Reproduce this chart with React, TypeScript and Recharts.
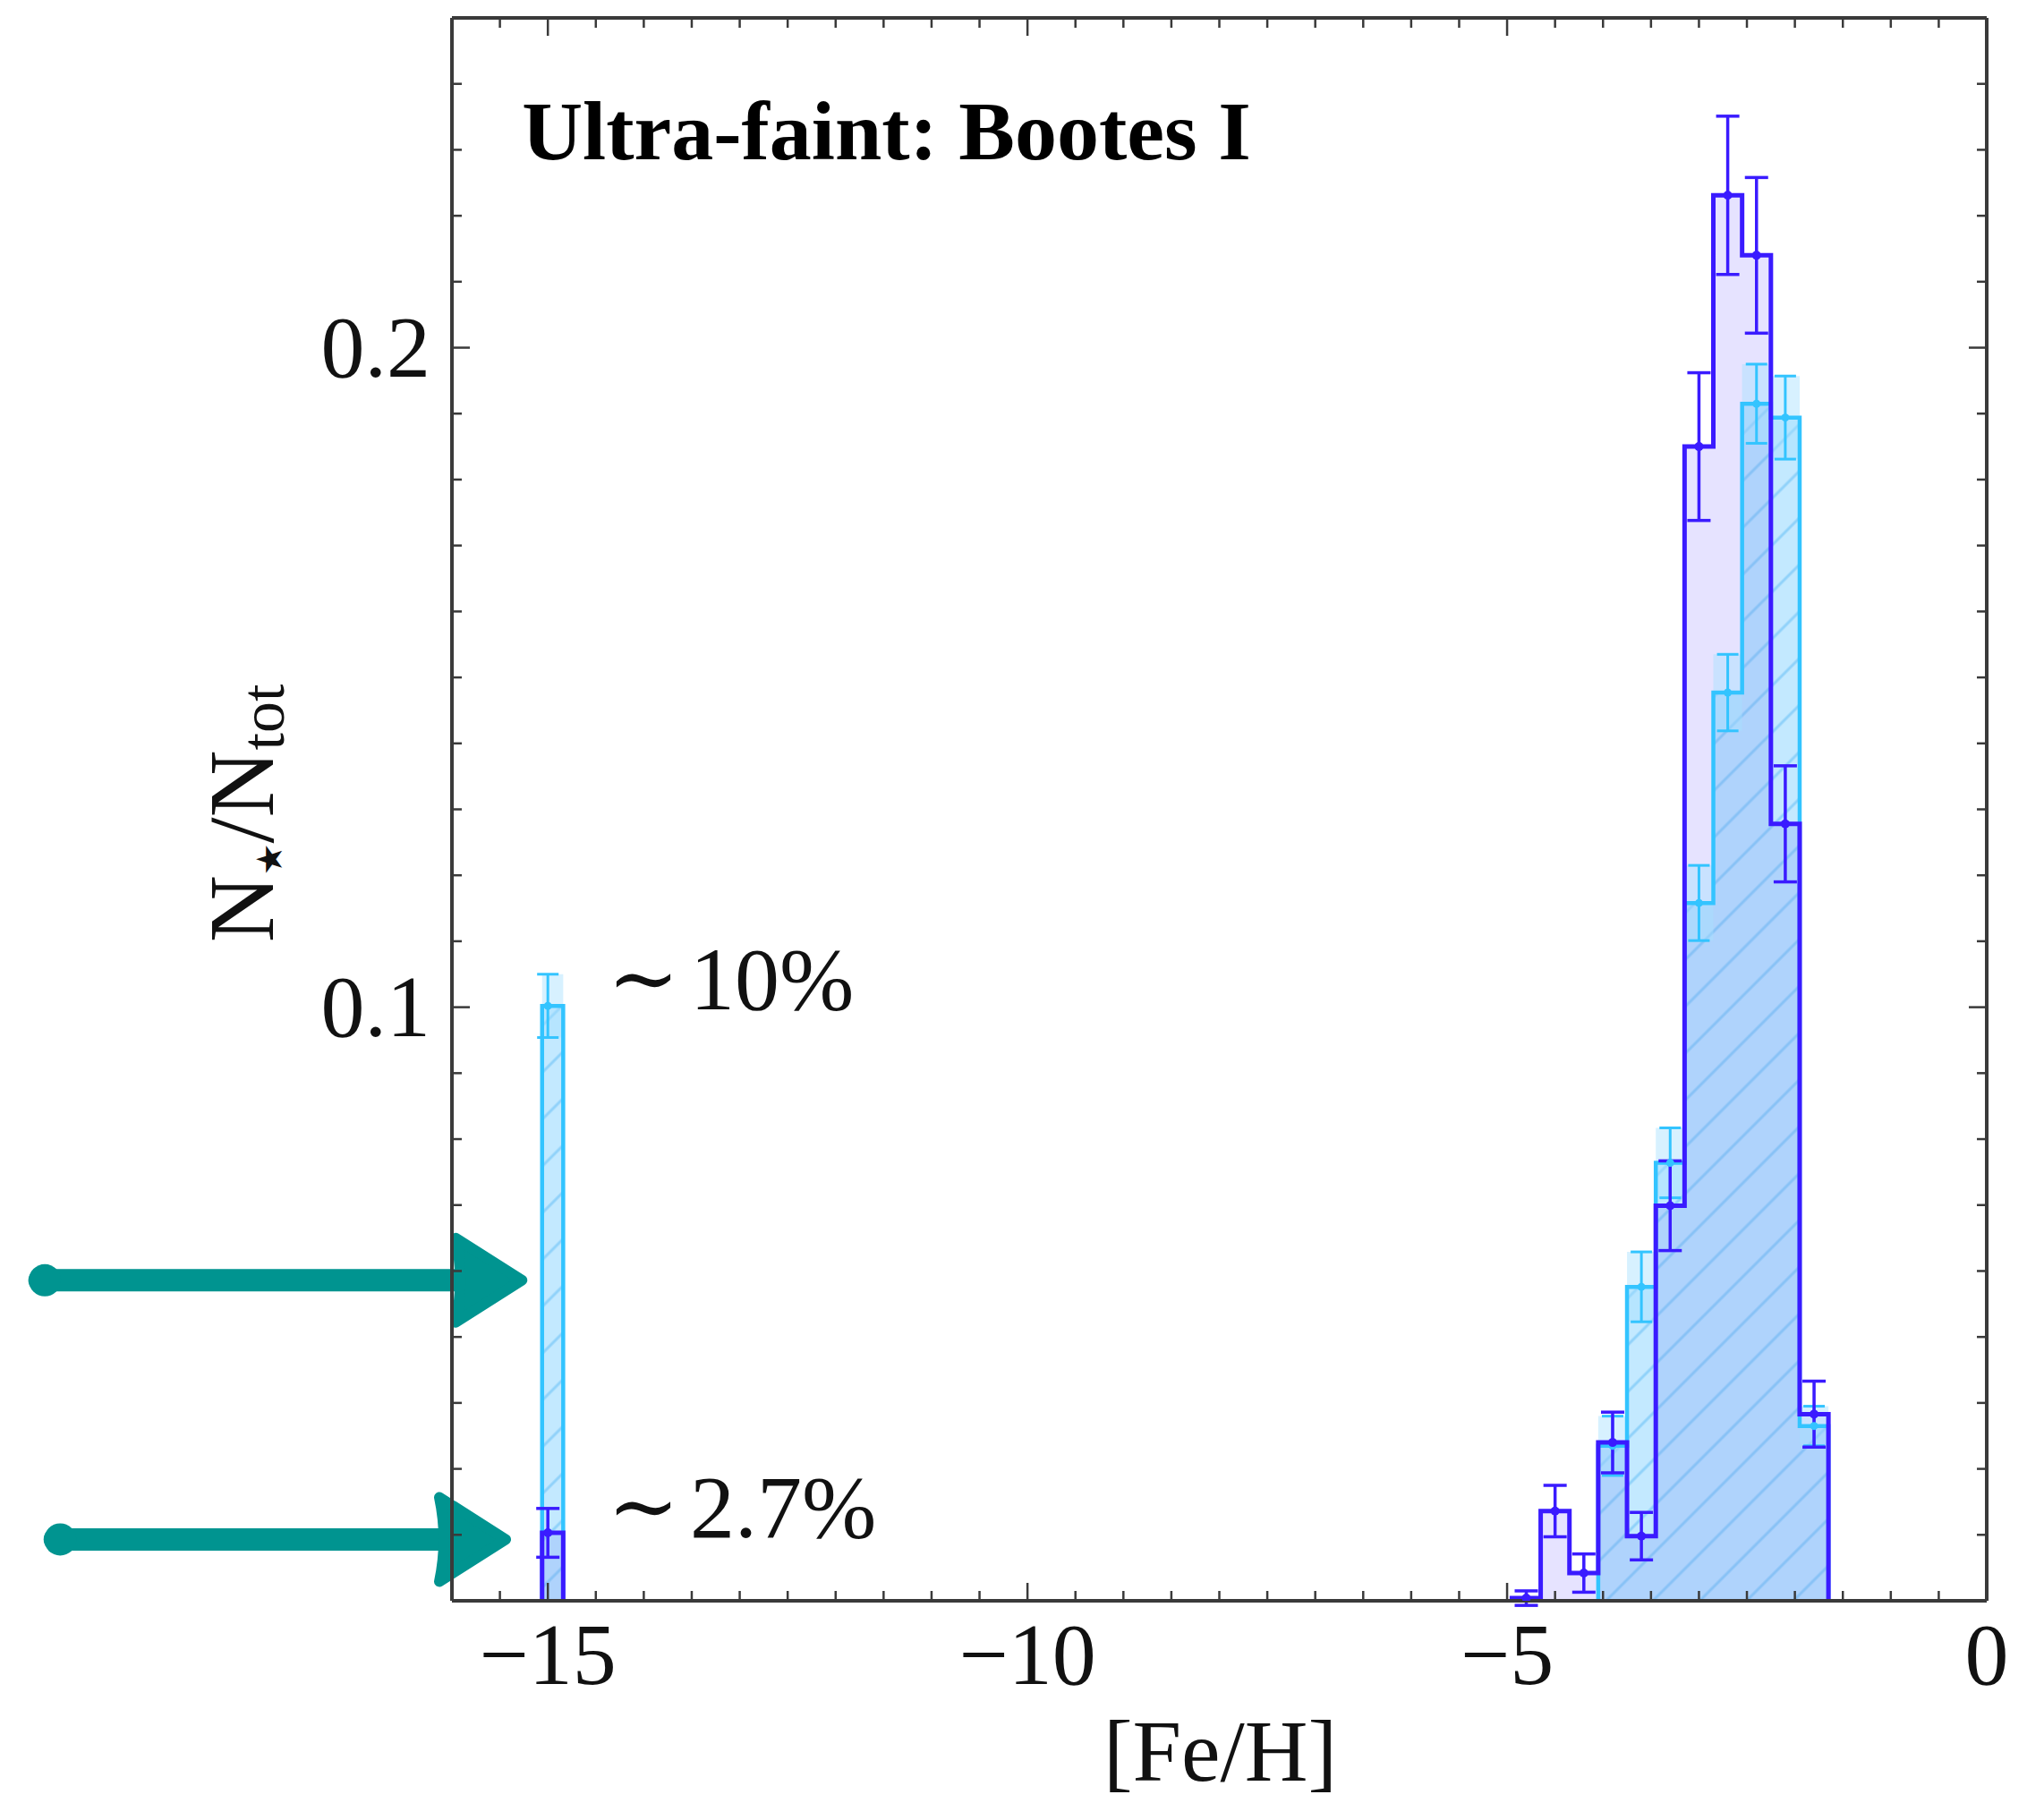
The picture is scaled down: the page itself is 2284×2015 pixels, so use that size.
import React from "react";
import {
  ComposedChart, Area, Scatter, ErrorBar, XAxis, YAxis,
  ReferenceArea, ReferenceDot, ReferenceLine,
} from "recharts";

// main population, [Fe/H] bins of 0.3 dex
const binCenters = [-4.8, -4.5, -4.2, -3.9, -3.6, -3.3, -3.0, -2.7, -2.4, -2.1, -1.8];
const BIN_W = 0.3;

// dark blue histogram (open, lavender fill)
const darkValues = [0.0104, 0.0236, 0.0142, 0.034, 0.0198, 0.0699, 0.185, 0.2231, 0.214, 0.1278, 0.0383];
const darkErrors = [0.0011, 0.0039, 0.0029, 0.0046, 0.0036, 0.0068, 0.0112, 0.012, 0.0118, 0.0088, 0.005];

// cyan hatched histogram, empty below -4.05
const cyanValues = [0, 0, 0, 0.0335, 0.0576, 0.0764, 0.1158, 0.1477, 0.1915, 0.1894, 0.0365];
const cyanErrors = [0, 0, 0, 0.0045, 0.0053, 0.0053, 0.0057, 0.0058, 0.006, 0.0063, 0.003];

// isolated bin at [Fe/H] = -15
const lowEdges = [-15.06, -14.84];
const lowPoint = -15.0;
const lowDark = [0.0203, 0.0037];
const lowCyan = [0.1002, 0.0048];

// axes
const X_DOMAIN = [-16, 0];
const Y_DOMAIN = [0.01, 0.25];
const xMajor = [-15, -10, -5, 0];
const xTicks = Array.from({ length: 32 }, (_, i) => -15.5 + i * 0.5);
const yMajor = [0.1, 0.2];
const yTicks = Array.from({ length: 23 }, (_, i) => (i + 2) / 100);

// annotations (data coordinates)
const title = { text: "Ultra-faint: Bootes I", x: -15.27, y: 0.2285 };
const notes = [
  { text: "10%", x: -14.38, y: 0.0997 },
  { text: "2.7%", x: -14.38, y: 0.0197 },
];
const arrows = [
  { from: -20.3, to: -15.27, y: 0.0586 },
  { from: -20.14, to: -15.44, y: 0.0193 },
];

const FONT = "'Liberation Serif', 'Times New Roman', serif";
const AXIS = "#3a3a3a";
const DARK = "#3a1bff";
const CYAN = "#33c4ff";
const TEAL = "#009490";

// step table for the Area series
const histRows: { x: number; dark: number; cyan: number; both: number }[] = [];
const pushRow = (x: number, dark: number, cyan: number) =>
  histRows.push({ x, dark, cyan, both: Math.min(dark, cyan) });
pushRow(lowEdges[0], 0, 0);
pushRow(lowEdges[0], lowDark[0], lowCyan[0]);
pushRow(lowEdges[1], lowDark[0], lowCyan[0]);
pushRow(lowEdges[1], 0, 0);
binCenters.forEach((c, i) => pushRow(c - BIN_W / 2, darkValues[i], cyanValues[i]));
const last = binCenters.length - 1;
pushRow(binCenters[last] + BIN_W / 2, darkValues[last], cyanValues[last]);
pushRow(binCenters[last] + BIN_W / 2, 0, 0);

const darkPoints = [
  { x: lowPoint, y: lowDark[0], err: lowDark[1] },
  ...binCenters.map((c, i) => ({ x: c, y: darkValues[i], err: darkErrors[i] })),
];
const cyanPoints = [
  { x: lowPoint, y: lowCyan[0], err: lowCyan[1] },
  ...binCenters
    .map((c, i) => ({ x: c, y: cyanValues[i], err: cyanErrors[i] }))
    .filter((p) => p.y > 0),
];
const cyanBands = [
  { x1: lowEdges[0], x2: lowEdges[1], y1: lowCyan[0] - lowCyan[1], y2: lowCyan[0] + lowCyan[1] },
  ...binCenters
    .map((c, i) => ({
      x1: c - BIN_W / 2, x2: c + BIN_W / 2,
      y1: cyanValues[i] - cyanErrors[i], y2: cyanValues[i] + cyanErrors[i],
    }))
    .filter((b, i) => cyanValues[i] > 0),
];

const fmtX = (v: number) => (v < 0 ? `\u2212${-v}` : `${v}`);

function BottomTick(props: any) {
  const { x, y, payload } = props;
  const major = xMajor.includes(payload.value);
  return (
    <g>
      <line x1={x} y1={y} x2={x} y2={y - (major ? 20 : 11)} stroke={AXIS} strokeWidth={2.5} />
      {major && (
        <text x={x} y={y + 93} textAnchor="middle" fontSize={98} fontFamily={FONT} fill="#111">
          {fmtX(payload.value)}
        </text>
      )}
    </g>
  );
}

// tick hanging down from the top frame, drawn at the scaled x position
function TopTick(p: any) {
  const major = xMajor.includes(p.value);
  return <line x1={p.cx} y1={p.cy} x2={p.cx} y2={p.cy + (major ? 20 : 11)} stroke={AXIS} strokeWidth={2.5} />;
}

function LeftTick(props: any) {
  const { x, y, payload } = props;
  const major = yMajor.includes(payload.value);
  return (
    <g>
      <line x1={x} y1={y} x2={x + (major ? 20 : 11)} y2={y} stroke={AXIS} strokeWidth={2.5} />
      {major && (
        <text x={x - 24} y={y + 32} textAnchor="end" fontSize={98} fontFamily={FONT} fill="#111">
          {payload.value.toFixed(1)}
        </text>
      )}
    </g>
  );
}

function RightTick(props: any) {
  const { x, y, payload } = props;
  const major = yMajor.includes(payload.value);
  return <line x1={x} y1={y} x2={x - (major ? 20 : 11)} y2={y} stroke={AXIS} strokeWidth={2.5} />;
}

function Arrow(p: any) {
  const { x1, y1, x2, y2 } = p;
  const head = 74;
  const half = 47;
  return (
    <g>
      <line x1={x1} y1={y1} x2={x2 - head + 6} y2={y2} stroke={TEAL} strokeWidth={25} strokeLinecap="round" />
      <circle cx={x1 + 6} cy={y1} r={18} fill={TEAL} />
      <path
        d={`M${x2 - head},${y2 - half} Q${x2 - head + 10},${y2} ${x2 - head},${y2 + half} L${x2},${y2} Z`}
        fill={TEAL}
        stroke={TEAL}
        strokeWidth={12}
        strokeLinejoin="round"
      />
    </g>
  );
}

export default function App() {
  return (
    <div>
      <style>{"body{margin:0}"}</style>
      <ComposedChart
        width={2284}
        height={2015}
        data={histRows}
        margin={{ top: 19, right: 63, bottom: 96, left: 305 }}
      >
        <defs>
          <pattern id="hatchCyan" patternUnits="userSpaceOnUse" width="40" height="37" patternTransform="rotate(-45)">
            <rect width="40" height="37" fill="#c3e9ff" />
            <line x1="0" y1="18" x2="40" y2="18" stroke="#90d2fa" strokeWidth="3" />
          </pattern>
          <pattern id="hatchBoth" patternUnits="userSpaceOnUse" width="40" height="37" patternTransform="rotate(-45)">
            <rect width="40" height="37" fill="#afd3fc" />
            <line x1="0" y1="18" x2="40" y2="18" stroke="#88c2f6" strokeWidth="3" />
          </pattern>
        </defs>

        <XAxis
          dataKey="x"
          type="number"
          domain={X_DOMAIN}
          allowDataOverflow
          ticks={xTicks}
          interval={0}
          tickSize={0}
          tickMargin={0}
          tickLine={false}
          tick={(p: any) => <BottomTick {...p} />}
          axisLine={{ stroke: AXIS, strokeWidth: 4 }}
          height={130}
        />
        <XAxis
          xAxisId="top"
          orientation="top"
          dataKey="x"
          type="number"
          domain={X_DOMAIN}
          allowDataOverflow
          tick={false}
          tickLine={false}
          axisLine={{ stroke: AXIS, strokeWidth: 4 }}
          height={1}
        />
        <YAxis
          type="number"
          domain={Y_DOMAIN}
          allowDataOverflow
          ticks={yTicks}
          interval={0}
          tickSize={0}
          tickMargin={0}
          tickLine={false}
          tick={(p: any) => <LeftTick {...p} />}
          axisLine={{ stroke: AXIS, strokeWidth: 4 }}
          width={200}
        />
        <YAxis
          yAxisId="right"
          orientation="right"
          type="number"
          domain={Y_DOMAIN}
          allowDataOverflow
          ticks={yTicks}
          interval={0}
          tickSize={0}
          tickMargin={0}
          tickLine={false}
          tick={(p: any) => <RightTick {...p} />}
          axisLine={{ stroke: AXIS, strokeWidth: 4 }}
          width={1}
        />

        {/* lavender fill sits on the top/right axes (same domains) so those axes get data */}
        <Area
          xAxisId="top"
          yAxisId="right"
          type="stepAfter"
          dataKey="dark"
          stroke="none"
          fill="#e6e3ff"
          fillOpacity={1}
          isAnimationActive={false}
        />
        <Area type="stepAfter" dataKey="cyan" stroke="none" fill="url(#hatchCyan)" fillOpacity={1} isAnimationActive={false} />
        <Area type="stepAfter" dataKey="both" stroke="none" fill="url(#hatchBoth)" fillOpacity={1} isAnimationActive={false} />

        {cyanBands.map((b, i) => (
          <ReferenceArea key={i} x1={b.x1} x2={b.x2} y1={b.y1} y2={b.y2} fill="#a6e0ff" fillOpacity={0.45} stroke="none" />
        ))}

        <Area type="stepAfter" dataKey="cyan" stroke={CYAN} strokeWidth={4.5} fill="none" isAnimationActive={false} />
        <Area type="stepAfter" dataKey="dark" stroke={DARK} strokeWidth={5} fill="none" isAnimationActive={false} />

        <Scatter
          data={cyanPoints}
          dataKey="y"
          isAnimationActive={false}
          shape={(p: any) => <circle cx={p.cx} cy={p.cy} r={4.5} fill={CYAN} />}
        >
          <ErrorBar dataKey="err" direction="y" width={12} stroke={CYAN} strokeWidth={3} isAnimationActive={false} />
        </Scatter>
        <Scatter
          data={darkPoints}
          dataKey="y"
          isAnimationActive={false}
          shape={(p: any) => <circle cx={p.cx} cy={p.cy} r={5} fill={DARK} />}
        >
          <ErrorBar dataKey="err" direction="y" width={13} stroke={DARK} strokeWidth={3.5} isAnimationActive={false} />
        </Scatter>

        {/* ticks along the top frame */}
        {xTicks.map((v) => (
          <ReferenceDot
            key={`tt${v}`}
            x={v}
            y={Y_DOMAIN[1]}
            r={0}
            ifOverflow="visible"
            shape={(p: any) => <TopTick {...p} value={v} />}
          />
        ))}

        <ReferenceDot
          x={title.x}
          y={title.y}
          r={0}
          ifOverflow="visible"
          shape={(p: any) => (
            <text x={p.cx} y={p.cy} fontSize={94} fontWeight="bold" fontFamily={FONT} fill="#000">
              {title.text}
            </text>
          )}
        />
        {notes.map((n, i) => (
          <ReferenceDot
            key={i}
            x={n.x}
            y={n.y}
            r={0}
            ifOverflow="visible"
            shape={(p: any) => (
              <text x={p.cx} y={p.cy} fontSize={100} fontFamily={FONT} fill="#111">
                <tspan fontFamily="'DejaVu Serif', serif" fontSize={96} dy={-2}>{"\u223C"}</tspan>
                <tspan dx={12} dy={2}>{n.text}</tspan>
              </text>
            )}
          />
        ))}
        {arrows.map((a, i) => (
          <ReferenceLine
            key={i}
            segment={[{ x: a.from, y: a.y }, { x: a.to, y: a.y }]}
            ifOverflow="visible"
            shape={(p: any) => <Arrow {...p} />}
          />
        ))}

        {/* axis titles */}
        <ReferenceDot
          x={-7.99}
          y={-0.0173}
          r={0}
          ifOverflow="visible"
          shape={(p: any) => (
            <text x={p.cx} y={p.cy} textAnchor="middle" fontSize={98} fontFamily={FONT} fill="#111">
              [Fe/H]
            </text>
          )}
        />
        <ReferenceDot
          x={-17.865}
          y={0.1294}
          r={0}
          ifOverflow="visible"
          shape={(p: any) => (
            <text
              x={p.cx}
              y={p.cy}
              transform={`rotate(-90 ${p.cx} ${p.cy})`}
              textAnchor="middle"
              fontSize={104}
              fontFamily={FONT}
              fill="#111"
            >
              N
              <tspan fontFamily="'DejaVu Sans', sans-serif" fontSize={40} dy={10}>{"\u2605"}</tspan>
              <tspan dy={-10}>/N</tspan>
              <tspan fontSize={70} dy={12}>tot</tspan>
            </text>
          )}
        />
      </ComposedChart>
    </div>
  );
}
